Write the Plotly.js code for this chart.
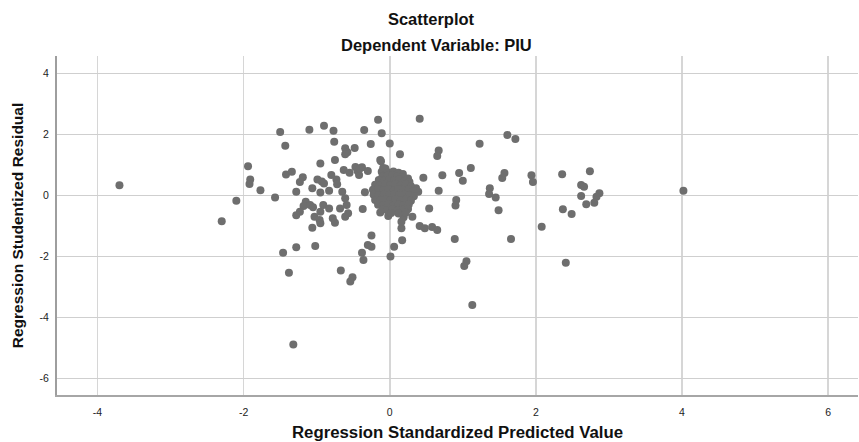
<!DOCTYPE html>
<html>
<head>
<meta charset="utf-8">
<script src="https://cdn.plot.ly/plotly-3.0.1.min.js"></script>
<style>
  html, body { margin: 0; padding: 0; background: #ffffff; }
  #chart { width: 859px; height: 442px; }
</style>
</head>
<body>
<div id="chart"></div>
<script>
// Scattered cases (Regression Standardized Predicted Value, Regression Studentized Residual)
const scatterPredicted = [
  -3.70, -2.30, -2.10, -1.94, -1.91, -1.92, -1.77, -1.57, -1.50, -1.43,
  -1.42, -1.34, -1.28, -1.23, -1.19, -1.15, -1.18, -1.09, -1.05, -1.23,
  -1.28, -1.06, -1.10, -0.99, -0.93, -0.90, -0.95, -0.95, -0.83, -0.90,
  -0.77, -0.76, -0.75, -0.80, -0.73, -0.72, -0.65, -0.91, -0.83, -1.03,
  -0.96, -0.78, -0.75, -1.06, -0.61, -0.59, -0.68, -0.57, -0.61, -0.61,
  -0.58, -0.48, -0.61, -0.63, -0.55, -0.44, -0.38, -0.30, -0.42, -0.35,
  -0.26, -0.16, -0.11, -0.12, -0.09, -0.11, 0.00, 0.14, -0.13, -0.34,
  -0.37, -0.13, -0.02, -1.28, -1.02, -1.46, -1.38, -1.32, -0.67, -0.51,
  -0.54, -0.38, -0.36, -0.25, -0.30, -0.25, 0.01, 0.06, 0.17, 0.16,
  0.16, 0.31, 0.41, 0.48, 0.54, 0.39, 0.46, 0.41, 0.36, 0.72,
  0.67, 0.65, 0.67, 0.58, 0.65, 0.95, 1.00, 1.11, 1.23, 1.61,
  1.72, 1.54, 1.57, 1.94, 1.96, 2.36, 2.74, 2.62, 2.66, 2.87,
  2.83, 2.80, 2.62, 2.69, 1.37, 1.36, 1.45, 0.91, 0.90, 1.49,
  2.37, 2.49, 2.08, 0.89, 1.66, 1.05, 1.02, 2.41, 1.13, 4.02,
  -0.06, -0.47, -0.41, -0.95, -0.95, 0.19
];
const scatterResidual = [
  0.33, -0.85, -0.18, 0.95, 0.52, 0.37, 0.17, -0.07, 2.08, 1.63,
  0.68, 0.77, 0.12, 0.44, 0.59, -0.21, -0.35, -0.32, -0.39, -0.54,
  -0.65, 0.23, 2.15, 0.52, 0.45, 0.39, 1.04, 0.09, 0.15, 2.28,
  2.12, 1.76, 1.16, 0.67, 0.52, 0.36, 0.12, -0.32, -0.43, -0.70,
  -0.81, -0.75, -0.90, -1.06, -0.10, -0.32, -0.43, -0.59, -0.70, 1.54,
  1.41, 1.55, 1.35, 0.83, 0.74, 0.80, 0.92, 0.80, 0.67, 2.14,
  1.68, 2.48, 2.04, 1.12, 0.90, 0.77, 1.70, 1.35, 1.16, 0.10,
  -0.45, -0.56, -0.68, -1.70, -1.66, -1.88, -2.54, -4.89, -2.47, -2.69,
  -2.83, -1.88, -2.12, -1.32, -1.63, -1.69, -2.01, -1.69, -1.47, -1.08,
  -0.87, -0.70, -1.01, -1.08, -0.43, 0.12, 0.58, 2.51, 0.23, 0.66,
  1.47, 1.29, 0.15, -1.04, -1.14, 0.73, 0.48, 0.90, 1.69, 1.98,
  1.85, 0.57, 0.73, 0.66, 0.44, 0.69, 0.79, 0.34, 0.28, 0.07,
  -0.05, -0.24, -0.02, -0.29, 0.23, 0.04, -0.07, -0.15, -0.33, -0.49,
  -0.46, -0.61, -1.03, -1.43, -1.43, -2.16, -2.32, -2.21, -3.60, 0.15,
  0.88, 0.93, 0.88, -0.54, -0.92, -0.72
];
// Dense core of cases around the origin
const corePredicted = [
  -0.02, 0.05, 0.12, 0.18,
  -0.10, -0.03, 0.04, 0.11, 0.18, 0.25,
  -0.15, -0.08, -0.01, 0.06, 0.13, 0.20, 0.27,
  -0.20, -0.13, -0.06, 0.01, 0.08, 0.15, 0.22, 0.29,
  -0.23, -0.16, -0.09, -0.02, 0.05, 0.12, 0.19, 0.26, 0.32,
  -0.22, -0.15, -0.08, -0.01, 0.06, 0.13, 0.20, 0.27, 0.33,
  -0.20, -0.13, -0.06, 0.01, 0.08, 0.15, 0.22, 0.29,
  -0.16, -0.09, -0.02, 0.05, 0.12, 0.19, 0.26,
  -0.10, -0.03, 0.04, 0.11, 0.18, 0.25,
  0.02, 0.12, 0.22
];
const coreResidual = [
  0.75, 0.78, 0.74, 0.70,
  0.62, 0.64, 0.66, 0.63, 0.60, 0.55,
  0.50, 0.48, 0.51, 0.49, 0.52, 0.47, 0.44,
  0.35, 0.33, 0.36, 0.34, 0.37, 0.33, 0.36, 0.30,
  0.18, 0.20, 0.17, 0.19, 0.16, 0.20, 0.17, 0.19, 0.14,
  0.02, 0.00, 0.03, 0.01, 0.04, 0.00, 0.03, 0.00, -0.03,
  -0.15, -0.17, -0.14, -0.16, -0.13, -0.17, -0.14, -0.18,
  -0.31, -0.33, -0.30, -0.34, -0.31, -0.33, -0.30,
  -0.47, -0.49, -0.46, -0.50, -0.47, -0.45,
  -0.58, -0.60, -0.57
];
const xTickVals = [-4, -2, 0, 2, 4, 6];
const yTickVals = [-6, -4, -2, 0, 2, 4];

const FONT = 'Liberation Sans, Arial, Helvetica, sans-serif';

const trace = {
  type: 'scatter',
  mode: 'markers',
  x: scatterPredicted.concat(corePredicted),
  y: scatterResidual.concat(coreResidual),
  marker: { color: '#6e6e6e', size: 8, line: { width: 0 } },
  hoverinfo: 'skip'
};

const layout = {
  width: 859,
  height: 442,
  margin: { l: 57, r: 1, t: 56, b: 47 },
  paper_bgcolor: '#ffffff',
  plot_bgcolor: '#ffffff',
  showlegend: false,
  font: { family: FONT, color: '#222222' },
  title: {
    text: '<b>Scatterplot</b>',
    font: { family: FONT, size: 16.5, color: '#111111' },
    xref: 'container', x: 431 / 859, xanchor: 'center',
    yref: 'container', y: 1 - 19 / 442, yanchor: 'middle'
  },
  annotations: [{
    text: '<b>Dependent Variable: PIU</b>',
    xref: 'paper', yref: 'paper',
    x: (436 - 57) / 801, y: (395 - 45) / 339,
    xanchor: 'center', yanchor: 'middle',
    showarrow: false,
    font: { family: FONT, size: 16.5, color: '#111111' }
  }],
  xaxis: {
    range: [-4.555, 6.41],
    tickvals: xTickVals,
    ticktext: xTickVals.map(String),
    showgrid: true, gridcolor: '#d6d6d6', gridwidth: 1.5,
    zeroline: false,
    showline: true, linecolor: '#a6a6a6', linewidth: 2,
    ticks: '',
    ticklabelstandoff: 6,
    tickfont: { family: FONT, size: 10.5, color: '#222222' },
    title: {
      text: '<b>Regression Standardized Predicted Value</b>',
      font: { family: FONT, size: 16.8, color: '#111111' },
      standoff: 11
    },
    fixedrange: true
  },
  yaxis: {
    range: [-6.55, 4.57],
    tickvals: yTickVals,
    ticktext: yTickVals.map(String),
    showgrid: true, gridcolor: '#cfcfcf', gridwidth: 1,
    zeroline: false,
    showline: true, linecolor: '#9e9e9e', linewidth: 2,
    ticks: '',
    ticklabelstandoff: 4,
    tickfont: { family: FONT, size: 10.5, color: '#222222' },
    title: {
      text: '<b>Regression Studentized Residual</b>',
      font: { family: FONT, size: 15.5, color: '#111111' },
      standoff: 12
    },
    fixedrange: true
  }
};

Plotly.newPlot('chart', [trace], layout, { displayModeBar: false, staticPlot: true });
</script>
</body>
</html>
